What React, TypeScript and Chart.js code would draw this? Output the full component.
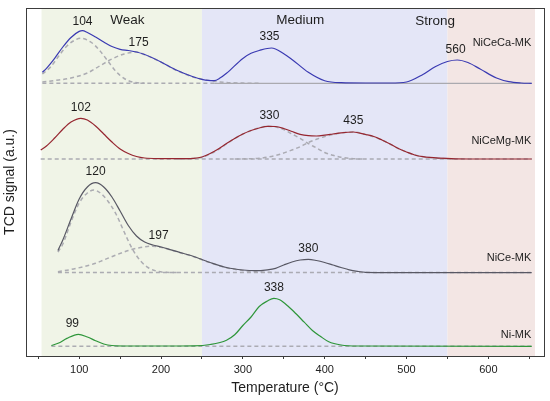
import { useEffect, useRef } from "react"
import { Chart, registerables } from "chart.js"
import type { Plugin } from "chart.js"

Chart.register(...registerables)

type Pt = [number, number]

// temperature (°C), TCD signal (a.u., offset per sample)
const niCeCaCurve: Pt[] = [
  [55, 284.7], [60, 288.7], [70, 298.7], [80, 310], [90, 319.5], [100, 325.6], [104, 326.3],
  [110, 324.5], [120, 320], [130, 315], [140, 310.5], [150, 307.7], [160, 306.5], [170, 305],
  [180, 302.5], [190, 299], [200, 295], [220, 286.5], [240, 280], [250, 277.7], [258, 276.6],
  [265, 276.4], [272, 278.9], [280, 283.7], [300, 298.6], [310, 303.7], [320, 306.5], [335, 309],
  [350, 303.3], [360, 297.6], [380, 284.7], [400, 276.3], [420, 274.3], [450, 274], [480, 274],
  [500, 275], [520, 282.5], [535, 290.3], [550, 295.5], [562, 297], [575, 294.5], [590, 288],
  [610, 279], [625, 275.3], [640, 274], [653, 273.7],
]
const niCeCaPeak1: Pt[] = [
  [55, 283], [65, 290], [75, 301], [85, 311], [95, 317], [102, 318.7], [115, 314.5],
  [125, 306.5], [135, 296], [145, 285.5], [155, 278.5], [165, 275], [180, 273.7],
]
const niCeCaPeak2: Pt[] = [
  [55, 275], [70, 276.5], [90, 279], [110, 284], [125, 291], [140, 298], [155, 303],
  [170, 305], [180, 302.3], [190, 298.8], [200, 294.8], [220, 286.3], [240, 279.8],
  [260, 276.3], [280, 274.5], [300, 273.9], [320, 273.7],
]
const niCeCaBase: Pt[] = [[55, 273.7], [265, 273.7]]
const niCeCaBaseRight: Pt[] = [[265, 273.7], [653, 273.7]]

const niCeMgCurve: Pt[] = [
  [53, 207], [60, 211], [70, 219], [80, 227.8], [90, 235], [102, 238.7], [110, 237],
  [120, 231], [130, 223], [140, 215], [150, 208], [160, 203.5], [170, 200.5], [180, 199],
  [200, 198.4], [220, 198.3], [240, 198.7], [250, 200], [260, 203.5], [270, 208], [280, 213.5],
  [290, 218.5], [300, 223], [310, 226.5], [320, 229], [330, 230.7], [340, 230.5], [350, 228.5],
  [360, 225.5], [370, 222.7], [380, 221.3], [390, 221], [400, 221.8], [410, 223], [420, 224.2],
  [435, 225], [450, 222.5], [460, 220.5], [470, 217], [480, 213], [490, 208.5], [500, 205],
  [510, 202], [520, 200.3], [540, 198.8], [560, 198.2], [600, 198], [653, 198],
]
const niCeMgPeak1: Pt[] = [
  [220, 198], [240, 198.6], [250, 199.5], [260, 203], [270, 207.5], [280, 213], [290, 218.5],
  [300, 223], [310, 226.5], [320, 229], [330, 230.7], [340, 230], [350, 227.5], [360, 223],
  [370, 218.7], [380, 213.5], [390, 209], [400, 204.5], [410, 201.7], [420, 199.7], [435, 198.3],
  [450, 198],
]
const niCeMgPeak2: Pt[] = [
  [290, 198], [310, 198.3], [320, 198.7], [340, 201.5], [360, 207], [370, 210.3], [380, 214.5],
  [390, 217.7], [400, 220.5], [410, 222.5], [420, 224], [435, 225], [450, 222.5], [470, 217],
  [490, 208.5], [510, 202], [530, 199.3], [560, 198],
]
const niCeMgBase: Pt[] = [[53, 198], [653, 198]]

const niCeCurve: Pt[] = [
  [74, 106.5], [80, 117], [90, 138], [100, 158], [110, 170], [120, 174.3], [130, 170],
  [140, 160], [150, 146], [160, 131.5], [170, 121], [180, 115], [190, 112], [200, 110],
  [210, 107.7], [220, 105.3], [240, 100.5], [250, 97.5], [260, 94.5], [280, 89.5], [300, 87],
  [315, 86.3], [330, 87.2], [340, 88.7], [350, 92], [360, 95], [370, 97], [380, 97.7],
  [390, 96.5], [400, 94.5], [410, 92], [420, 89.5], [430, 87.2], [440, 85.7], [450, 84.7],
  [480, 84.4], [653, 84.3],
]
const niCePeak1: Pt[] = [
  [74, 105], [80, 113], [90, 135], [100, 154], [110, 164], [118, 167], [125, 164.5],
  [135, 156], [145, 143], [155, 125], [165, 108], [175, 96], [185, 89], [195, 85.8],
  [205, 84.7], [220, 84.5],
]
const niCePeak2: Pt[] = [
  [74, 85.3], [90, 87.5], [105, 90.3], [120, 93.7], [130, 97], [145, 102], [160, 106.5],
  [175, 109.5], [190, 110.8], [200, 109.7], [210, 107.5], [220, 105.1], [240, 100.3],
  [260, 94.3], [280, 89.3], [300, 86.5], [320, 85], [340, 84.5],
]
const niCeBase: Pt[] = [[74, 84.5], [653, 84.5]]

const niCurve: Pt[] = [
  [66, 11.5], [75, 14], [85, 18.6], [99, 22.7], [110, 20], [120, 16.3], [130, 13],
  [140, 11.5], [160, 11], [200, 11], [240, 11.2], [260, 12.5], [280, 16.8], [290, 22.2],
  [300, 31.5], [310, 40], [320, 50.5], [330, 56], [338, 58.7], [345, 57.2], [355, 51],
  [365, 43.2], [375, 34.8], [385, 26.5], [395, 20.5], [405, 15.2], [420, 12], [440, 11],
  [653, 10.7],
]
const niBase: Pt[] = [[66, 10.7], [653, 10.7]]

// peak maxima labels (°C)
const niCeCaPeaks = [104, 175, 335, 560]
const niCeMgPeaks = [102, 330, 435]
const niCePeaks = [120, 197, 380]
const niPeaks = [99, 338]

const sampleNames = ["NiCeCa-MK", "NiCeMg-MK", "NiCe-MK", "Ni-MK"]
const sampleNameLevels = [314.3, 216.3, 98.7, 22]

const regionNames = ["Weak", "Medium", "Strong"]
const regionLabelAt: Pt[] = [[159, 337], [370, 336.3], [535, 335.3]]
const regionEdges = [54, 250, 550, 657]

const xTickValues = [50, 100, 150, 200, 250, 300, 350, 400, 450, 500, 550, 600, 650]

const FONT = "'Liberation Sans', Arial, sans-serif"
const regionColors = ["rgb(240,244,231)", "rgb(228,230,247)", "rgb(243,230,228)"]
const DASH_COLOR = "rgba(168,168,175,0.95)"

// small nudges (px) for labels that sit off the maximum
const labelNudge: Record<string, number> = { "99": -6, "335": -2, "330": 2, "175": -2 }
const labelLift: Record<string, number> = { "104": -9 }

function valueAt(curve: Pt[], t: number) {
  for (let i = 1; i < curve.length; i++) {
    const [x0, y0] = curve[i - 1]
    const [x1, y1] = curve[i]
    if (t >= x0 && t <= x1) return y0 + ((t - x0) / (x1 - x0)) * (y1 - y0)
  }
  return curve[curve.length - 1][1]
}

const toXY = (pts: Pt[]) => pts.map(([x, y]) => ({ x, y }))

const regionPlugin: Plugin<"line"> = {
  id: "regions",
  beforeDatasetsDraw(chart) {
    const { ctx, chartArea, scales } = chart
    const x = scales.x
    ctx.save()
    for (let i = 0; i < regionColors.length; i++) {
      const a = x.getPixelForValue(regionEdges[i])
      const b = x.getPixelForValue(regionEdges[i + 1])
      ctx.fillStyle = regionColors[i]
      ctx.fillRect(a, chartArea.top, b - a, chartArea.bottom - chartArea.top)
    }
    ctx.restore()
  },
}

const textPlugin: Plugin<"line"> = {
  id: "texts",
  afterDatasetsDraw(chart) {
    const { ctx, chartArea, scales } = chart
    const x = scales.x
    const y = scales.y
    ctx.save()

    // frame
    ctx.strokeStyle = "#3c3c3c"
    ctx.lineWidth = 1
    ctx.strokeRect(
      Math.round(chartArea.left) + 0.5,
      Math.round(chartArea.top) + 0.5,
      Math.round(chartArea.right - chartArea.left),
      Math.round(chartArea.bottom - chartArea.top)
    )

    ctx.fillStyle = "#1e1e1e"
    ctx.textBaseline = "middle"
    ctx.textAlign = "center"

    ctx.font = `13.5px ${FONT}`
    regionNames.forEach((name, i) => {
      const [t, s] = regionLabelAt[i]
      ctx.fillText(name, x.getPixelForValue(t), y.getPixelForValue(s))
    })

    ctx.font = `12px ${FONT}`
    const groups: [number[], Pt[]][] = [
      [niCeCaPeaks, niCeCaCurve],
      [niCeMgPeaks, niCeMgCurve],
      [niCePeaks, niCeCurve],
      [niPeaks, niCurve],
    ]
    groups.forEach(([peaks, curve]) => {
      peaks.forEach((p) => {
        const key = String(p)
        const px = x.getPixelForValue(p) + (labelNudge[key] ?? 0)
        const py = y.getPixelForValue(valueAt(curve, p)) + (labelLift[key] ?? -11)
        ctx.fillText(key, px, py)
      })
    })

    ctx.font = `11px ${FONT}`
    ctx.textAlign = "right"
    sampleNames.forEach((name, i) => {
      ctx.fillText(name, x.getPixelForValue(652.5), y.getPixelForValue(sampleNameLevels[i]))
    })

    ctx.restore()
  },
}

export default function App() {
  const canvasRef = useRef<HTMLCanvasElement>(null)
  const chartRef = useRef<Chart<"line"> | null>(null)

  useEffect(() => {
    if (!canvasRef.current) return
    const ctx = canvasRef.current.getContext("2d")
    if (!ctx) return

    if (chartRef.current) chartRef.current.destroy()

    const main = (data: Pt[], color: string) => ({
      data: toXY(data),
      borderColor: color,
      borderWidth: 1.2,
      pointRadius: 0,
      cubicInterpolationMode: "monotone" as const,
      order: 0,
    })
    const dashed = (data: Pt[]) => ({
      data: toXY(data),
      borderColor: DASH_COLOR,
      borderWidth: 1.5,
      borderDash: [4, 3],
      pointRadius: 0,
      cubicInterpolationMode: "monotone" as const,
      order: 1,
    })

    chartRef.current = new Chart(ctx, {
      type: "line",
      data: {
        datasets: [
          main(niCeCaCurve, "rgb(58,58,178)"),
          main(niCeMgCurve, "rgb(150,38,48)"),
          main(niCeCurve, "rgb(88,88,100)"),
          main(niCurve, "rgb(46,150,58)"),
          dashed(niCeCaPeak1),
          dashed(niCeCaPeak2),
          dashed(niCeCaBase),
          { ...dashed(niCeCaBaseRight), borderDash: [], borderColor: "rgb(170,170,175)", borderWidth: 1.2 },
          dashed(niCeMgPeak1),
          dashed(niCeMgPeak2),
          dashed(niCeMgBase),
          dashed(niCePeak1),
          dashed(niCePeak2),
          dashed(niCeBase),
          dashed(niBase),
        ],
      },
      options: {
        animation: false,
        responsive: true,
        maintainAspectRatio: false,
        layout: { padding: { top: 8, right: 6, left: 0, bottom: 0 } },
        plugins: {
          legend: { display: false },
          tooltip: { enabled: false },
        },
        scales: {
          x: {
            type: "linear",
            min: 35,
            max: 668,
            afterBuildTicks: (axis) => {
              axis.ticks = xTickValues.map((v) => ({ value: v }))
            },
            ticks: {
              color: "#222",
              padding: 4,
              maxRotation: 0,
              font: { family: FONT, size: 11 },
              callback: (v) => (Number(v) % 100 === 0 ? String(v) : ""),
            },
            grid: {
              display: true,
              drawOnChartArea: false,
              drawTicks: true,
              tickLength: 3,
              color: "#3c3c3c",
            },
            border: { display: false },
            title: {
              display: true,
              text: "Temperature (°C)",
              color: "#1e1e1e",
              font: { family: FONT, size: 14 },
              padding: { top: 0, bottom: 4 },
            },
          },
          y: {
            type: "linear",
            min: 1,
            max: 349,
            ticks: { display: false },
            grid: { display: false, drawTicks: false },
            border: { display: false },
            title: {
              display: true,
              text: "TCD signal (a.u.)",
              color: "#1e1e1e",
              font: { family: FONT, size: 14 },
              padding: { top: 1.6, bottom: 7.6 },
            },
          },
        },
      },
      plugins: [regionPlugin, textPlugin],
    })

    return () => {
      if (chartRef.current) {
        chartRef.current.destroy()
        chartRef.current = null
      }
    }
  }, [])

  return (
    <div style={{ position: "fixed", left: 0, top: 0, width: 550, height: 401, background: "#fff" }}>
      <canvas ref={canvasRef} />
    </div>
  )
}
